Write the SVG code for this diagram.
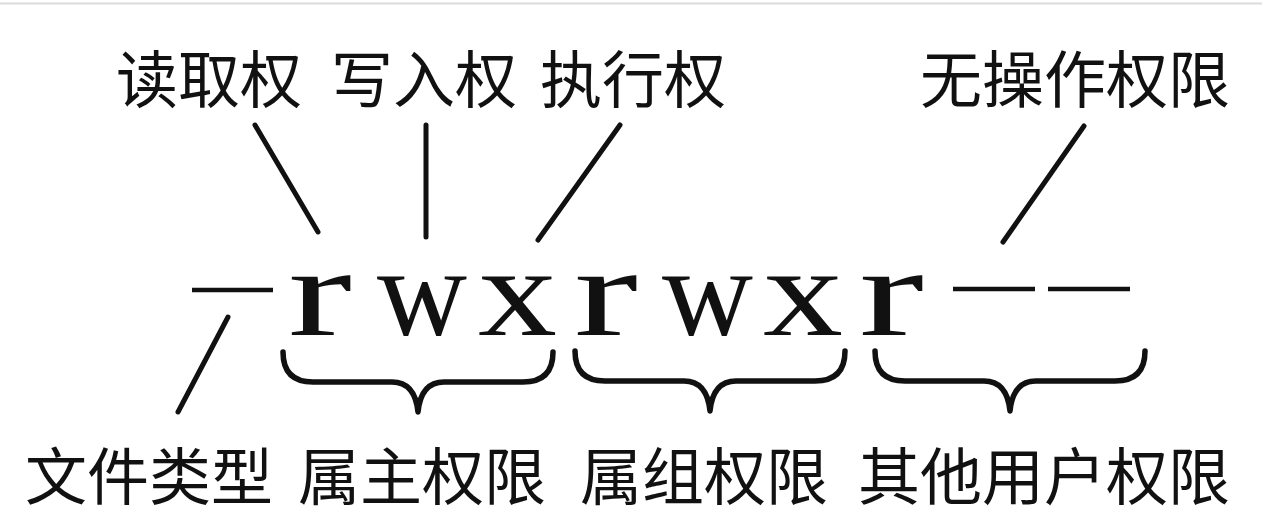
<svg xmlns="http://www.w3.org/2000/svg" width="1262" height="522" viewBox="0 0 1262 522">
  <style>
    .lbl { font-family: "Noto Sans CJK SC", "Noto Sans", sans-serif; font-size: 62px; fill: #111; }
    .perm { font-family: "Liberation Serif", "Times New Roman", serif; font-size: 126px; fill: #111; }
    .ln { stroke: #111; stroke-width: 5; stroke-linecap: round; fill: none; }
    .brace { stroke: #111; stroke-width: 5.5; stroke-linecap: round; stroke-linejoin: round; fill: none; }
    .dash { stroke: #111; stroke-width: 4.5; }
  </style>
  <defs>
    <path id="brace" d="M-135,0 Q-135,30 -105,30 L-26,30 Q-3,30 0,60 Q3,30 26,30 L105,30 Q135,30 135,0"/>
  </defs>
  <rect x="0" y="0" width="1262" height="522" fill="#ffffff"/>
  <line x1="0" y1="3.5" x2="1262" y2="3.5" stroke="#dcdcdc" stroke-width="2"/>

  <g id="label-read"><text class="lbl" x="116" y="103">读取权</text></g>
  <g id="label-write"><text class="lbl" x="331" y="103">写入权</text></g>
  <g id="label-exec"><text class="lbl" x="540" y="103">执行权</text></g>
  <g id="label-none"><text class="lbl" x="920" y="103">无操作权限</text></g>

  <g id="perm-string">
    <line class="dash" x1="192" y1="290" x2="273" y2="290"/>
    <text class="perm" x="288" y="335" textLength="64" lengthAdjust="spacingAndGlyphs">r</text>
    <text class="perm" x="377" y="335" textLength="90" lengthAdjust="spacingAndGlyphs">w</text>
    <text class="perm" x="478" y="335" textLength="79" lengthAdjust="spacingAndGlyphs">x</text>
    <text class="perm" x="574" y="335" textLength="64" lengthAdjust="spacingAndGlyphs">r</text>
    <text class="perm" x="662" y="335" textLength="91" lengthAdjust="spacingAndGlyphs">w</text>
    <text class="perm" x="763" y="335" textLength="80" lengthAdjust="spacingAndGlyphs">x</text>
    <text class="perm" x="859" y="335" textLength="65" lengthAdjust="spacingAndGlyphs">r</text>
    <line class="dash" x1="953" y1="289" x2="1035" y2="289"/>
    <line class="dash" x1="1048" y1="289" x2="1130" y2="289"/>
  </g>

  <g id="braces">
    <use href="#brace" class="brace" transform="translate(418,352)"/>
    <use href="#brace" class="brace" transform="translate(710,351)"/>
    <use href="#brace" class="brace" transform="translate(1010,351)"/>
  </g>

  <g id="connectors">
    <line class="ln" x1="255" y1="125" x2="318" y2="232"/>
    <line class="ln" x1="426" y1="125" x2="426" y2="237"/>
    <line class="ln" x1="620" y1="125" x2="538" y2="240"/>
    <line class="ln" x1="1084" y1="126" x2="1003" y2="242"/>
    <line class="ln" x1="228" y1="317" x2="178" y2="412"/>
  </g>

  <g id="label-filetype"><text class="lbl" x="25" y="500">文件类型</text></g>
  <g id="label-owner"><text class="lbl" x="298" y="500">属主权限</text></g>
  <g id="label-group"><text class="lbl" x="580" y="500">属组权限</text></g>
  <g id="label-other"><text class="lbl" x="858" y="500">其他用户权限</text></g>
</svg>
